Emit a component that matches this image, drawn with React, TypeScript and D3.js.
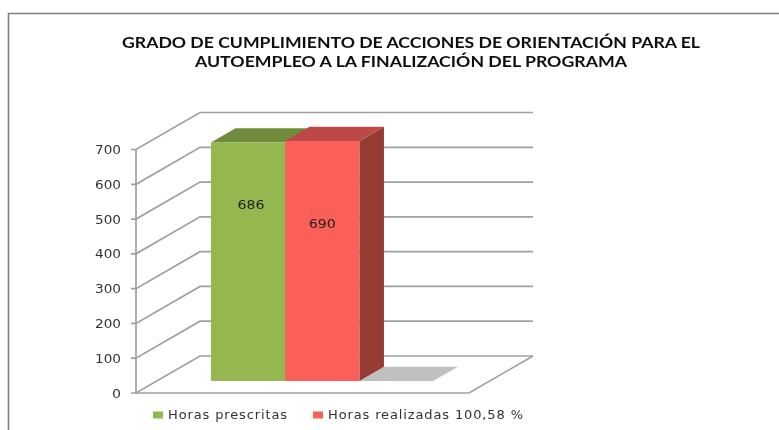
import React from "react";
import * as d3 from "d3";

const ticks = [0, 100, 200, 300, 400, 500, 600, 700];
const categories = ["Horas prescritas", "Horas realizadas 100,58 %"];
const values = [686, 690];
const titleLines = [
  "GRADO DE CUMPLIMIENTO DE ACCIONES DE ORIENTACIÓN PARA EL",
  "AUTOEMPLEO A LA FINALIZACIÓN DEL PROGRAMA",
];
const fronts = ["#94b84f", "#fb5f5a"];
const tops = ["#6f8b3a", "#bc4a47"];
const sides = ["#6f8b3a", "#973a36"];
const labelCentres = [204, 223];

const W = 779, H = 430;
const y = d3.scaleLinear().domain([0, 700]).range([393, 149.5]);
const x = d3.scaleBand<string>().domain(categories).range([190.2, 338.7]).paddingInner(0).paddingOuter(0);
const left = 136, right = 469;
const dx = 64, dy = -37;
const f0 = 0.324, f1 = 0.707;
const grid = "#a0a0a0";
const textFont = "'DejaVu Sans', sans-serif";

const P = (pts: [number, number][]) => d3.line()(pts) + "Z";
const pr = (px: number, py: number, f: number): [number, number] => [px + dx * f, py + dy * f];

export default function App() {
  const barGeom = categories.map((c, i) => {
    const a = x(c)!, b = a + x.bandwidth(), yt = y(values[i]), yb = y(0);
    return { a, b, yt, yb, i };
  });
  const last = barGeom[1];
  const sb = pr(last.b, last.yb, f0);
  const se = pr(last.b, last.yb, f1);
  return (
    <svg width={W} height={H} style={{ position: "absolute", left: 0, top: 0, background: "#fff" }}>
      <defs>
        <filter id="soft" filterUnits="userSpaceOnUse" x={0} y={0} width={W} height={H}>
          <feGaussianBlur stdDeviation="0.5" />
        </filter>
      </defs>
      <g filter="url(#soft)">
        <path d={`M8.5 430V13.5H${W}`} fill="none" stroke="#808080" strokeWidth={1.6} />
        <g fontFamily="Lato, sans-serif" fontWeight={700} fontSize={15.5} fill="#111" textAnchor="middle">
          {titleLines.map((t, i) => (
            <text key={t} x={411} y={47.5 + i * 19.5} textLength={i === 0 ? 578 : 432} lengthAdjust="spacingAndGlyphs">{t}</text>
          ))}
        </g>
        {ticks.map((t) => {
          const [bx, by] = pr(left, y(t), 1);
          return (
            <path key={t} d={`M${left - 5} ${y(t)}H${left}L${bx} ${by}H${right + dx}`} stroke={grid} strokeWidth={1.7} fill="none" />
          );
        })}
        <path d={`M${left} ${y(700)}V${y(0)}H${right}L${right + dx} ${y(0) + dy}`} fill="none" stroke={grid} strokeWidth={1.7} />
        <path d={P([sb, se, [458, se[1]], [433, sb[1]]])} fill="#c0c0c0" />
        {barGeom.map(({ a, b, yt, yb, i }) => (
          <g key={i}>
            <path d={P([pr(b, yb, f0), pr(b, yb, f1), pr(b, yt, f1), pr(b, yt, f0)])} fill={sides[i]} />
            <path d={P([pr(a, yt, f0), pr(a, yt, f1), pr(b, yt, f1), pr(b, yt, f0)])} fill={tops[i]} />
            <path d={P([pr(a, yb, f0), pr(b, yb, f0), pr(b, yt, f0), pr(a, yt, f0)])} fill={fronts[i]} />
          </g>
        ))}
        <g fontFamily={textFont} fontSize={13} fill="#222" textAnchor="middle">
          {barGeom.map(({ a, b, i }) => {
            const cx = (pr(a, 0, f0)[0] + pr(b, 0, f0)[0]) / 2;
            return <text key={i} x={cx + (i === 0 ? 3 : 0)} y={labelCentres[i] + 4.7} textLength={27} lengthAdjust="spacingAndGlyphs">{values[i]}</text>;
          })}
        </g>
        <g fontFamily={textFont} fontSize={13} fill="#333" textAnchor="end">
          {ticks.map((t) => (
            <text key={t} x={121} y={y(t) + 4.5} textLength={t === 0 ? 9 : 26} lengthAdjust="spacingAndGlyphs">{t}</text>
          ))}
        </g>
        <g fontFamily={textFont} fontSize={13} fill="#333">
          {categories.map((c, i) => {
            const sx = [153, 313][i], tl = [119, 195][i];
            return (
              <g key={c}>
                <rect x={sx} y={411.5} width={10} height={7} fill={fronts[i]} />
                <text x={sx + 15} y={419} textLength={tl} lengthAdjust="spacing">{c}</text>
              </g>
            );
          })}
        </g>
      </g>
    </svg>
  );
}
